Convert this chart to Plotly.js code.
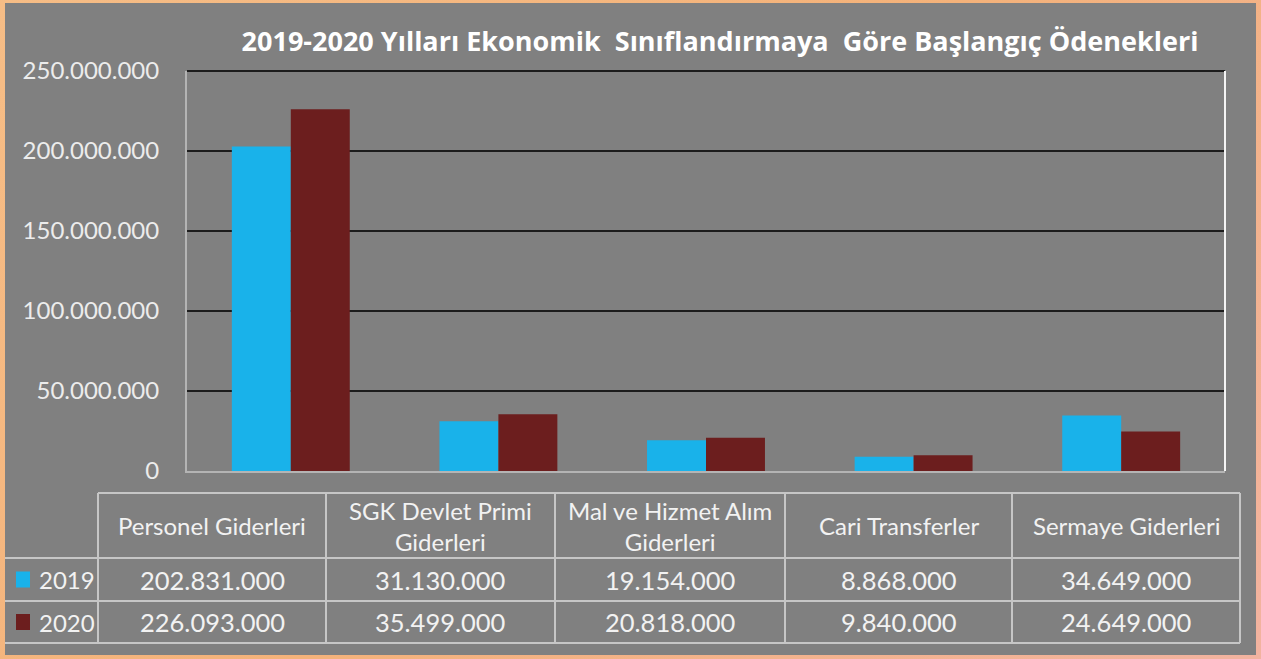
<!DOCTYPE html>
<html>
<head>
<meta charset="utf-8">
<script src="https://cdn.plot.ly/plotly-3.0.1.min.js"></script>
<style>
  html, body { margin: 0; padding: 0; }
  body { width: 1261px; height: 659px; background: linear-gradient(135deg, #f6bd86 0%, #f4b27a 50%, #f2b3a0 100%); position: relative; overflow: hidden; }
  #chart { position: absolute; left: 5px; top: 3px; width: 1251px; height: 652px; }
</style>
</head>
<body>
<div id="chart"></div>
<script>
// ---- data ----
var categories = ["Personel Giderleri", "SGK Devlet Primi<br>Giderleri", "Mal ve Hizmet Alım<br>Giderleri", "Cari Transferler", "Sermaye Giderleri"];
var seriesNames = ["2019", "2020"];
var values2019 = [202831000, 31130000, 19154000, 8868000, 34649000];
var values2020 = [226093000, 35499000, 20818000, 9840000, 24649000];
var titleText = "2019-2020 Yılları Ekonomik  Sınıflandırmaya  Göre Başlangıç Ödenekleri";

// ---- layout geometry (pixels within the chart div) ----
var FW = 1251, FH = 652;
var M = {l: 182, r: 31, t: 68, b: 184};
var PW = FW - M.l - M.r, PH = FH - M.t - M.b;
function px(x) { return (x - M.l) / PW; }
function py(y) { return 1 - (y - M.t) / PH; }

var colors = ["#19b2ea", "#6c1e1e"];
var textColor = "#f2f2f2";
var lineColor = "#c6c6c6";
var font = "Lato, 'Open Sans', sans-serif";

function fmt(v) {
  return String(v).replace(/\B(?=(\d{3})+(?!\d))/g, ".");
}

var traces = [
  {type: "bar", name: seriesNames[0], x: categories, y: values2019, marker: {color: colors[0]}, hoverinfo: "y"},
  {type: "bar", name: seriesNames[1], x: categories, y: values2020, marker: {color: colors[1]}, hoverinfo: "y"}
];

// ---- data table under the plot ----
var colX = [93, 321, 550, 780, 1007, 1235];
var rowY = [490, 555, 598, 640];
var shapes = [];
var annotations = [];

// top gridline and right wall edge
shapes.push({type: "line", xref: "paper", yref: "paper", x0: 0, x1: 1, y0: 1, y1: 1, line: {color: "#1c1c1c", width: 2}});
shapes.push({type: "line", xref: "paper", yref: "paper", x0: 1, x1: 1, y0: 0, y1: 1, line: {color: "#f4f4f4", width: 2}});

// table horizontal lines
shapes.push({type: "line", xref: "paper", yref: "paper", x0: px(colX[0]), x1: px(colX[colX.length - 1]), y0: py(rowY[0]), y1: py(rowY[0]), line: {color: lineColor, width: 2}});
for (var r = 1; r < rowY.length; r++) {
  shapes.push({type: "line", xref: "paper", yref: "paper", x0: px(0), x1: px(colX[colX.length - 1]), y0: py(rowY[r]), y1: py(rowY[r]), line: {color: lineColor, width: 2}});
}
// table vertical lines
for (var c = 0; c < colX.length; c++) {
  shapes.push({type: "line", xref: "paper", yref: "paper", x0: px(colX[c]), x1: px(colX[c]), y0: py(rowY[0]), y1: py(rowY[rowY.length - 1]), line: {color: lineColor, width: 2}});
}

// header cells
for (var i = 0; i < categories.length; i++) {
  var cx = (colX[i] + colX[i + 1]) / 2;
  annotations.push({xref: "paper", yref: "paper", x: px(cx), y: py((rowY[0] + rowY[1]) / 2), text: categories[i], showarrow: false, xanchor: "center", yanchor: "middle", font: {family: font, size: 24, color: textColor}});
}
// value rows
var rows = [values2019, values2020];
for (var s = 0; s < rows.length; s++) {
  var cy = (rowY[s + 1] + rowY[s + 2]) / 2;
  // legend key
  shapes.push({type: "rect", xref: "paper", yref: "paper", x0: px(11), x1: px(25), y0: py(cy - 8), y1: py(cy + 8), fillcolor: colors[s], line: {width: 0}});
  annotations.push({xref: "paper", yref: "paper", x: px(32), y: py(cy), text: seriesNames[s], showarrow: false, xanchor: "left", yanchor: "middle", font: {family: font, size: 24, color: textColor}});
  for (var j = 0; j < rows[s].length; j++) {
    var vx = (colX[j] + colX[j + 1]) / 2;
    annotations.push({xref: "paper", yref: "paper", x: px(vx), y: py(cy), text: fmt(rows[s][j]), showarrow: false, xanchor: "center", yanchor: "middle", font: {family: font, size: 25.5, color: textColor}});
  }
}

var layout = {
  width: FW, height: FH,
  margin: M,
  paper_bgcolor: "#808080",
  plot_bgcolor: "#808080",
  separators: ",.",
  showlegend: false,
  bargap: 0.432,
  bargroupgap: 0,
  title: {
    text: "<b>" + titleText + "</b>",
    xref: "container", yref: "container",
    x: 715 / FW, xanchor: "center",
    y: 1 - 39 / FH, yanchor: "middle",
    font: {family: "'Open Sans', sans-serif", size: 27, color: "#ffffff"}
  },
  xaxis: {
    type: "category",
    showticklabels: false,
    showgrid: false,
    showline: true, linecolor: "#b4b4b4", linewidth: 2,
    ticks: ""
  },
  yaxis: {
    range: [0, 250000000],
    dtick: 50000000,
    tickformat: ",d",
    showgrid: true, gridcolor: "#1c1c1c", gridwidth: 2,
    zeroline: false,
    showline: true, linecolor: "#b4b4b4", linewidth: 2,
    ticks: "",
    ticklabelstandoff: 21,
    tickfont: {family: font, size: 24, color: "#ececec"}
  },
  shapes: shapes,
  annotations: annotations
};

Plotly.newPlot("chart", traces, layout, {displayModeBar: false, staticPlot: true});
</script>
</body>
</html>
